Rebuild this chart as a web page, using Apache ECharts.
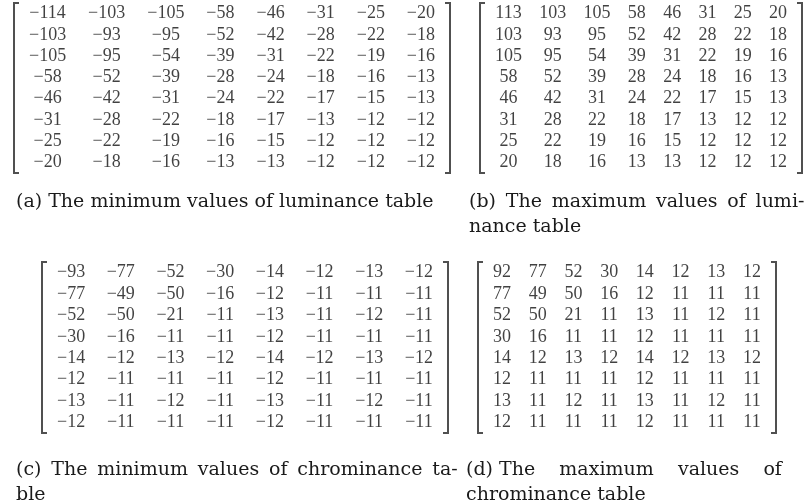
<!DOCTYPE html>
<html><head><meta charset="utf-8">
<script src="https://cdn.jsdelivr.net/npm/echarts@6/dist/echarts.min.js"></script>
<style>html,body{margin:0;padding:0;background:#fff}#c{width:812px;height:501px}</style>
</head><body><div id="c"></div>
<script>
// ---- data ----
const rowIds = ['r1','r2','r3','r4','r5','r6','r7','r8'];
const lumMin = [
  [-114,-103,-105,-58,-46,-31,-25,-20],
  [-103,-93,-95,-52,-42,-28,-22,-18],
  [-105,-95,-54,-39,-31,-22,-19,-16],
  [-58,-52,-39,-28,-24,-18,-16,-13],
  [-46,-42,-31,-24,-22,-17,-15,-13],
  [-31,-28,-22,-18,-17,-13,-12,-12],
  [-25,-22,-19,-16,-15,-12,-12,-12],
  [-20,-18,-16,-13,-13,-12,-12,-12]
];
const lumMax = [
  [113,103,105,58,46,31,25,20],
  [103,93,95,52,42,28,22,18],
  [105,95,54,39,31,22,19,16],
  [58,52,39,28,24,18,16,13],
  [46,42,31,24,22,17,15,13],
  [31,28,22,18,17,13,12,12],
  [25,22,19,16,15,12,12,12],
  [20,18,16,13,13,12,12,12]
];
const chrMin = [
  [-93,-77,-52,-30,-14,-12,-13,-12],
  [-77,-49,-50,-16,-12,-11,-11,-11],
  [-52,-50,-21,-11,-13,-11,-12,-11],
  [-30,-16,-11,-11,-12,-11,-11,-11],
  [-14,-12,-13,-12,-14,-12,-13,-12],
  [-12,-11,-11,-11,-12,-11,-11,-11],
  [-13,-11,-12,-11,-13,-11,-12,-11],
  [-12,-11,-11,-11,-12,-11,-11,-11]
];
const chrMax = [
  [92,77,52,30,14,12,13,12],
  [77,49,50,16,12,11,11,11],
  [52,50,21,11,13,11,12,11],
  [30,16,11,11,12,11,11,11],
  [14,12,13,12,14,12,13,12],
  [12,11,11,11,12,11,11,11],
  [13,11,12,11,13,11,12,11],
  [12,11,11,11,12,11,11,11]
];
const captions = [
  '(a) The minimum values of luminance table',
  '(b)\u2009 The\u2009 maximum\u2009 values\u2009 of\u2009 lumi-\nnance table',
  '(c)\u2009 The\u2009 minimum\u2009 values\u2009 of\u2009 chrominance\u2009 ta-\nble',
  '(d) The    maximum    values    of\nchrominance table'
];

// ---- layout (styles/positions) ----
const NUM_FONT = 18, CAP_FONT = 19;
const FAMILY = '"Liberation Serif", serif';
const CAP_FAMILY = '"DejaVu Serif", serif';
const panels = [
  {data: lumMin, left: 14,  right: 450, top: 3,   bottom: 173, capX: 16,  capY: 190},
  {data: lumMax, left: 480, right: 802, top: 3,   bottom: 173, capX: 469, capY: 190},
  {data: chrMin, left: 42,  right: 448, top: 262, bottom: 433, capX: 16,  capY: 458},
  {data: chrMax, left: 478, right: 776, top: 262, bottom: 433, capX: 466, capY: 458}
];
const PAD = 15;

const fmt = v => (v < 0 ? '\u2212' + (-v) : String(v));
const ctx = document.createElement('canvas').getContext('2d');
ctx.font = NUM_FONT + 'px ' + FAMILY;
const tw = s => ctx.measureText(s).width;

const grid = [], xAxis = [], yAxis = [], series = [], title = [];
panels.forEach((p, k) => {
  const W = p.right - p.left, H = p.bottom - p.top;
  const ncol = p.data[0].length;
  const widths = [];
  for (let j = 0; j < ncol; j++) {
    widths.push(Math.max(...p.data.map(r => tw(fmt(r[j])))));
  }
  const sumW = widths.reduce((a, b) => a + b, 0);
  const gap = (W - 2 * PAD - sumW) / (ncol - 1);
  const centers = [];
  let acc = PAD;
  for (let j = 0; j < ncol; j++) { centers.push(acc + widths[j] / 2); acc += widths[j] + gap; }

  grid.push({left: p.left, top: p.top, width: W, height: H, show: false});
  xAxis.push({type: 'value', gridIndex: k, min: 0, max: W, show: false});
  yAxis.push({type: 'category', gridIndex: k, data: rowIds, inverse: true, show: false, boundaryGap: true});

  const pts = [];
  p.data.forEach((row, i) => row.forEach((v, j) => pts.push([centers[j], rowIds[i], v])));
  series.push({
    type: 'scatter', xAxisIndex: k, yAxisIndex: k, data: pts, symbolSize: 1,
    itemStyle: {color: 'rgba(0,0,0,0)'}, silent: true,
    label: {show: true, position: 'inside', formatter: q => fmt(q.value[2]),
      fontFamily: FAMILY, fontSize: NUM_FONT, color: '#111'}
  });
  series.push({
    type: 'custom', xAxisIndex: k, yAxisIndex: k, data: [[0, rowIds[0]]], silent: true, clip: false,
    renderItem: (params, api) => {
      const cs = params.coordSys;
      const x0 = cs.x, x1 = cs.x + cs.width, y0 = cs.y, y1 = cs.y + cs.height, s = 5;
      const style = {stroke: '#505050', lineWidth: 2, fill: null};
      return {type: 'group', children: [
        {type: 'polyline', shape: {points: [[x0 + s, y0], [x0, y0], [x0, y1], [x0 + s, y1]]}, style},
        {type: 'polyline', shape: {points: [[x1 - s, y0], [x1, y0], [x1, y1], [x1 - s, y1]]}, style}
      ]};
    }
  });
  title.push({text: captions[k], left: p.capX, top: p.capY, padding: 0,
    textStyle: {fontFamily: CAP_FAMILY, fontSize: CAP_FONT, fontWeight: 'normal', color: '#1a1a1a', lineHeight: 25}});
});

const chart = echarts.init(document.getElementById('c'), null, {renderer: 'canvas'});
chart.setOption({animation: false, backgroundColor: '#fff', title, grid, xAxis, yAxis, series});
</script>
</body></html>
